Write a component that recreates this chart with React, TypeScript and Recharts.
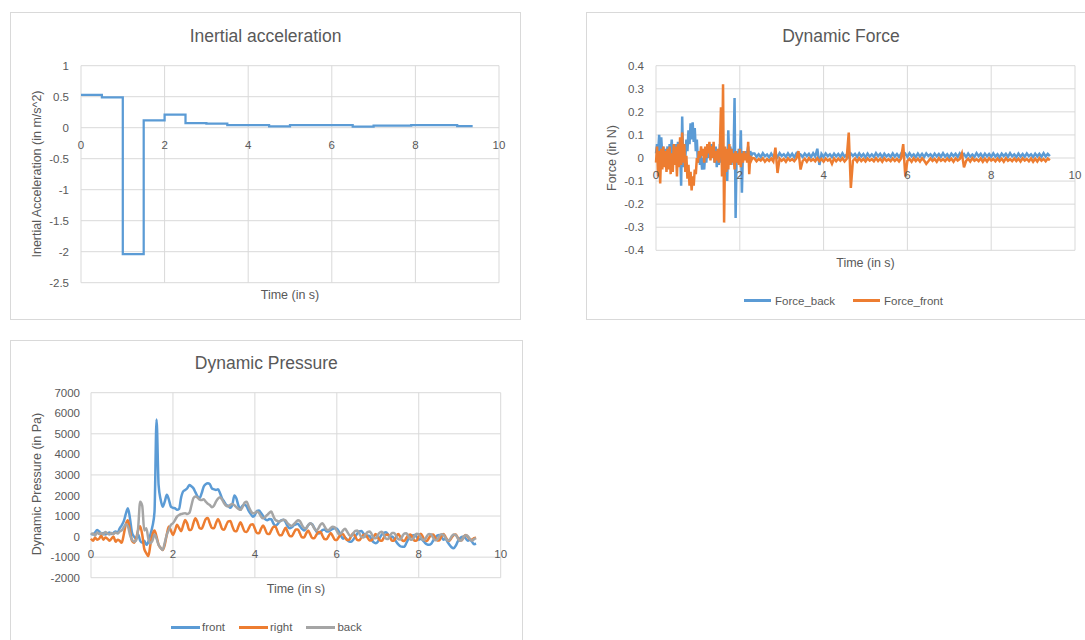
import React from 'react';
import { LineChart, Line, XAxis, YAxis, CartesianGrid } from 'recharts';

const BLUE = '#5b9bd5';
const ORANGE = '#ed7d31';
const GRAY = '#a5a5a5';
const TEXT = '#595959';
const GRID = '#d9d9d9';
const FONT = '"Liberation Sans", Arial, sans-serif';

const timeTicks = [0, 2, 4, 6, 8, 10];

// Inertial acceleration: held values, each starts at the listed time
const accelTime = [0, 0.5, 1.0, 1.5, 2.0, 2.5, 3.0, 3.5, 4.5, 5.0, 6.5, 7.0, 7.9, 9.0, 9.37];
const accelValue = [0.53, 0.49, -2.04, 0.12, 0.21, 0.075, 0.065, 0.04, 0.02, 0.043, 0.016, 0.032, 0.043, 0.027, 0.027];
const accelTicks = [-2.5, -2, -1.5, -1, -0.5, 0, 0.5, 1];

// Dynamic force, 0 - 2.3 s sampled every 0.025 s
const FORCE_EARLY_STEP = 0.025;
const forceBackEarly = [
  0.02, 0.06, 0.02, 0.10, 0.03, 0.09, 0.01, 0.05, -0.02, 0.04,
  0.00, 0.05, -0.02, 0.06, 0.01, 0.08, -0.01, 0.05, -0.03, 0.06,
  0.00, 0.07, -0.02, 0.04, -0.12, 0.18, -0.04, 0.06, 0.00, 0.08,
  0.03, 0.12, 0.06, 0.15, 0.08, 0.155, 0.07, 0.13, 0.03, 0.08,
  -0.02, 0.03, -0.03, 0.01, -0.05, 0.00, -0.05, 0.02, -0.02, 0.04,
  0.00, 0.05, 0.01, 0.06, 0.00, 0.04, -0.02, 0.05, -0.04, 0.03,
  -0.03, 0.06, -0.02, 0.04, -0.05, 0.03, -0.04, 0.02, -0.10, 0.12,
  -0.02, 0.05, -0.03, 0.04, -0.01, 0.26, -0.26, 0.03, -0.02, 0.04,
  -0.01, 0.12, -0.15, 0.03, 0.00, 0.03, 0.00, 0.02, 0.05, 0.00,
  0.03, 0.01, 0.02,
];
const forceFrontEarly = [
  -0.02, 0.05, -0.08, 0.03, -0.11, 0.04, -0.05, 0.05, -0.04, 0.03,
  -0.06, 0.04, -0.05, 0.05, -0.07, 0.02, -0.06, 0.06, -0.03, 0.05,
  -0.08, 0.06, -0.04, 0.09, -0.03, 0.11, -0.02, 0.06, -0.06, 0.01,
  -0.09, -0.03, -0.12, -0.06, -0.14, -0.08, -0.12, -0.05, -0.07, 0.00,
  -0.02, 0.03, 0.00, 0.05, 0.01, 0.04, -0.02, 0.05, 0.00, 0.06,
  0.02, 0.07, -0.01, 0.05, 0.00, 0.07, -0.02, 0.03, -0.01, 0.04,
  -0.02, 0.05, 0.22, -0.08, 0.32, -0.28, 0.05, -0.06, 0.04, -0.05,
  0.06, -0.03, 0.04, -0.02, 0.02, -0.05, 0.03, -0.02, 0.02, -0.03,
  0.04, -0.04, 0.02, -0.02, 0.03, -0.01, 0.02, -0.02, 0.07, -0.07,
  0.01, -0.01, 0.00,
];

// Dynamic force, 2.35 - 9.4 s sampled every 0.05 s
const FORCE_LATE_START = 2.35;
const FORCE_LATE_STEP = 0.05;
const forceBackLate = [
  0.020, 0.005, 0.016, 0.004, 0.021, 0.008, 0.015, 0.003, 0.019, 0.006,
  0.017, 0.004, 0.021, 0.009, 0.016, 0.005, 0.020, 0.006, 0.018, 0.003,
  0.020, 0.007, 0.015, 0.005, 0.019, 0.008, 0.018, 0.004, 0.021, 0.006,
  0.040, -0.030, 0.018, 0.005, 0.020, 0.008, 0.016, 0.004, 0.019, 0.007,
  0.017, 0.005, 0.021, 0.006, 0.015, 0.004, 0.019, 0.009, 0.018, 0.005,
  0.020, 0.007, 0.017, 0.003, 0.019, 0.006, 0.016, 0.005, 0.021, 0.008,
  0.018, 0.004, 0.019, 0.007, 0.015, 0.005, 0.020, 0.006, 0.017, 0.004,
  0.019, 0.008, 0.018, 0.005, 0.021, 0.007, 0.016, 0.004, 0.019, 0.006,
  0.018, 0.005, 0.020, 0.009, 0.016, 0.004, 0.019, 0.007, 0.017, 0.005,
  0.021, 0.006, 0.016, 0.003, 0.019, 0.008, 0.018, 0.005, 0.020, 0.007,
  0.017, 0.004, 0.019, 0.006, 0.015, 0.005, 0.021, 0.008, 0.018, 0.004,
  0.019, 0.007, 0.017, 0.005, 0.020, 0.006, 0.016, 0.003, 0.019, 0.008,
  0.018, 0.005, 0.021, 0.007, 0.016, 0.004, 0.019, 0.006, 0.017, 0.005,
  0.020, 0.008, 0.016, 0.004, 0.019, 0.007, 0.018, 0.005, 0.021, 0.006,
  0.018, 0.008,
];
const forceFrontLate = [
  -0.002, -0.014, -0.004, -0.011, -0.001, -0.016, -0.005, -0.013, -0.002, -0.015,
  0.045, -0.065, -0.002, -0.012, -0.004, -0.016, -0.001, -0.011, -0.005, -0.014,
  -0.002, 0.030, -0.050, -0.013, -0.003, -0.016, -0.001, -0.012, -0.005, -0.014,
  -0.001, -0.013, -0.004, -0.016, -0.002, -0.011, -0.005, -0.025, -0.002, -0.014,
  -0.003, -0.012, -0.001, -0.015, -0.004, 0.110, -0.130, -0.012, -0.002, -0.016,
  -0.001, -0.013, -0.004, -0.015, -0.002, -0.011, -0.005, -0.014, -0.001, -0.013,
  -0.003, -0.016, -0.001, -0.012, -0.005, -0.014, -0.002, -0.013, -0.004, -0.015,
  -0.002, 0.060, -0.080, -0.012, -0.004, -0.016, -0.001, -0.013, -0.003, -0.015,
  -0.001, -0.011, -0.025, -0.014, -0.002, -0.013, -0.004, -0.016, -0.001, -0.012,
  -0.005, -0.014, -0.002, -0.012, -0.003, -0.016, -0.001, -0.011, -0.004, 0.020,
  -0.040, -0.013, -0.003, -0.015, -0.001, -0.012, -0.005, -0.014, -0.002, -0.016,
  -0.003, -0.015, -0.001, -0.011, -0.004, -0.014, -0.002, -0.013, -0.003, -0.016,
  -0.001, -0.012, -0.005, -0.014, -0.002, -0.013, -0.003, -0.015, -0.001, -0.011,
  -0.004, -0.014, -0.002, -0.016, -0.003, -0.015, -0.001, -0.012, -0.004, -0.014,
  -0.002, -0.010,
];
const forceTicks = [-0.4, -0.3, -0.2, -0.1, 0, 0.1, 0.2, 0.3, 0.4];

// Dynamic pressure, sampled every 0.05 s from 0 to 9.4 s
const PRESSURE_STEP = 0.05;
const pressureFront = [
  150, 100, 200, 320, 250, 120, 180, 100, 150, 200,
  120, 180, 250, 200, 400, 550, 750, 1100, 1380, 900,
  200, 0, -100, 100, -200, -300, -200, -400, -250, 100,
  500, 1200, 5700, 2500, 1800, 1450, 1700, 2030, 1800, 1460,
  1400, 1380, 1300, 1350, 1900, 2200, 2270, 2350, 2510, 2450,
  2350, 2150, 1950, 1870, 2100, 2430, 2550, 2600, 2550, 2350,
  2300, 2270, 2300, 2110, 1850, 1700, 1540, 1500, 1400, 1550,
  2000, 1850, 1500, 1380, 1500, 1550, 1460, 1250, 1100, 970,
  1050, 1250, 1270, 1150, 1000, 850, 800, 850, 840, 650,
  520, 600, 730, 800, 820, 700, 500, 400, 450, 550,
  600, 620, 500, 380, 300, 400, 550, 640, 600, 420,
  250, 150, 200, 320, 350, 250, 250, 320, 380, 400,
  380, 250, 50, -100, -50, -150, -240, -250, -150, 0,
  150, 250, 275, 150, 0, 50, 20, -150, -280, -320,
  -250, -50, 100, 180, 210, 100, -50, 0, -100, -250,
  -380, -470, -500, -490, -300, -100, 0, 60, 80, -20,
  -150, -100, -180, -300, -380, -400, -350, -200, -50, 50,
  80, 0, -150, -100, -250, -400, -520, -570, -450, -250,
  -100, -20, 0, -100, -200, -150, -250, -370, -350,
];
const pressureRight = [
  -100, -200, -50, -150, -100, 50, -150, -50, -100, -200,
  -100, 0, -250, -150, -200, -300, 100, 600, 800, 300,
  -200, -300, -100, 300, 500, 100, -600, -800, -950, -400,
  100, 300, 0, -400, -550, -650, -400, 100, 490, 300,
  80, 300, 570, 420, 260, 550, 810, 620, 320, 340,
  650, 890, 700, 420, 380, 600, 850, 900, 650, 420,
  400, 650, 860, 650, 380, 330, 550, 740, 760, 500,
  280, 260, 500, 700, 480, 250, 220, 400, 580, 600,
  380, 170, 160, 380, 540, 360, 140, 120, 300, 470,
  490, 260, 70, 60, 250, 430, 220, 30, 20, 180,
  340, 350, 150, -30, -40, 150, 300, 120, -70, -80,
  80, 220, 240, 40, -120, -130, 30, 180, 20, -150,
  -160, -20, 110, 130, -40, -170, -160, 30, 150, 0,
  -170, -180, -40, 80, 100, -50, -190, -180, 0, 120,
  -30, -180, -200, -40, 80, 100, -50, -200, -190, 0,
  120, -20, -190, -210, -60, 70, 100, -50, -200, -190,
  20, 140, -10, -180, -210, -60, 80, 100, -40, -190,
  -190, 10, 130, 0, -170, -200, -60, 70, 100, -40,
  -190, -180, 0, 80, -20, -130, -150, -80, -50,
];
const pressureBack = [
  100, 150, 50, 200, 120, 180, 100, 220, 150, 100,
  180, 120, 200, 150, 250, 300, 450, 600, 500, 100,
  -150, -250, -200, 400, 1700, 1500, 300, 400, -100, -320,
  -200, 100, -100, -400, -550, -650, -300, 100, 330, 570,
  650, 800, 970, 1050, 1100, 1120, 1140, 1100, 1150, 1500,
  1870, 1950, 1900, 1800, 1780, 1820, 1700, 1600, 1540, 1430,
  1500, 1700, 1850, 1910, 1800, 1620, 1500, 1460, 1550, 1590,
  1520, 1430, 1350, 1300, 1450, 1650, 1700, 1450, 1250, 1140,
  1150, 1220, 1150, 980, 890, 950, 1050, 1150, 1220, 1000,
  810, 760, 730, 780, 820, 780, 640, 560, 520, 600,
  700, 800, 750, 560, 420, 400, 550, 650, 580, 400,
  300, 400, 580, 650, 500, 340, 320, 420, 480, 450,
  280, 120, 150, 300, 380, 250, 80, 20, 150, 280,
  300, 150, -20, -50, 100, 220, 250, 120, -60, -80,
  80, 200, 230, 80, -100, -120, 50, 170, 180, 30,
  -130, -140, 20, 150, 160, 10, -150, -130, 40, 140,
  120, -30, -160, -140, 30, 120, 100, -50, -180, -150,
  20, 110, 90, -60, -190, -160, 0, 100, 80, -80,
  -200, -170, 0, 60, 20, -120, -200, -120, -80,
];
const pressureTicks = [-2000, -1000, 0, 1000, 2000, 3000, 4000, 5000, 6000, 7000];

const accelData = accelTime.map((t, i) => ({ t, a: accelValue[i] }));

const forceData = [
  ...forceBackEarly.map((v, i) => ({ t: i * FORCE_EARLY_STEP, back: v, front: forceFrontEarly[i] })),
  ...forceBackLate.map((v, i) => ({ t: FORCE_LATE_START + i * FORCE_LATE_STEP, back: v, front: forceFrontLate[i] })),
];

const pressureData = pressureFront.map((v, i) => ({
  t: i * PRESSURE_STEP,
  front: v,
  right: pressureRight[i],
  back: pressureBack[i],
}));

// x labels sit just under the zero line, like Excel does
const zeroTick = (zeroFromBottom: number) => (props: any) => {
  const { x, y, payload } = props;
  return (
    <text x={x} y={y - 8 - zeroFromBottom + 21} textAnchor="middle" fill={TEXT} fontSize={11.5} fontFamily={FONT}>
      {payload.value}
    </text>
  );
};

const yTick = { fill: TEXT, fontSize: 11.5, fontFamily: FONT };

function Panel({ left, top, width, height, children }: any) {
  return (
    <div
      style={{
        position: 'absolute', left, top, width, height,
        outline: `1px solid ${GRID}`, outlineOffset: -1, background: '#fff',
      }}
    >
      {children}
    </div>
  );
}

function Txt({ x, y, size, rotate, children }: any) {
  return (
    <div
      style={{
        position: 'absolute', left: x, top: y,
        transform: `translate(-50%, -50%)${rotate ? ' rotate(-90deg)' : ''}`,
        fontSize: size, color: TEXT, whiteSpace: 'nowrap', lineHeight: 1,
      }}
    >
      {children}
    </div>
  );
}

function LegendRow({ x, y, items, lineWidth, gap, itemGap }: any) {
  return (
    <div
      style={{
        position: 'absolute', left: x, top: y, transform: 'translateY(-50%)',
        display: 'flex', alignItems: 'center', fontSize: 11.5, color: TEXT, whiteSpace: 'nowrap',
      }}
    >
      {items.map((it: any, i: number) => (
        <div key={it.name} style={{ display: 'flex', alignItems: 'center', marginLeft: i ? itemGap : 0 }}>
          <span style={{ width: lineWidth, height: 2.5, background: it.color, marginRight: gap }} />
          <span>{it.name}</span>
        </div>
      ))}
    </div>
  );
}

export default function App() {
  return (
    <div
      style={{
        position: 'absolute', left: 0, top: 0, width: 1085, height: 640,
        overflow: 'hidden', background: '#fff', fontFamily: FONT,
      }}
    >
      <Panel left={10} top={12} width={511} height={308}>
        <LineChart width={511} height={307} data={accelData} margin={{ top: 53.7, right: 22, bottom: 6.3, left: 0 }}>
          <CartesianGrid stroke={GRID} />
          <XAxis
            type="number"
            dataKey="t"
            domain={[0, 10]}
            ticks={timeTicks}
            height={30}
            axisLine={false}
            tickLine={false}
            tick={zeroTick(155)}
          />
          <YAxis
            type="number"
            domain={[-2.5, 1]}
            ticks={accelTicks}
            width={71}
            axisLine={false}
            tickLine={false}
            tickMargin={6}
            tick={yTick}
          />
          <Line type="stepAfter" dataKey="a" stroke={BLUE} strokeWidth={2.25} dot={false} isAnimationActive={false} />
        </LineChart>
      </Panel>

      <Panel left={586} top={12} width={510} height={308}>
        <LineChart width={510} height={308} data={forceData} margin={{ top: 53.7, right: 21, bottom: 39.7, left: 0 }}>
          <CartesianGrid stroke={GRID} />
          <XAxis
            type="number"
            dataKey="t"
            domain={[0, 10]}
            ticks={timeTicks}
            height={30}
            axisLine={false}
            tickLine={false}
            tick={zeroTick(92.3)}
          />
          <YAxis
            type="number"
            domain={[-0.4, 0.4]}
            ticks={forceTicks}
            width={70}
            axisLine={false}
            tickLine={false}
            tickMargin={6}
            tick={yTick}
          />
          <Line type="linear" dataKey="back" stroke={BLUE} strokeWidth={2.5} dot={false} isAnimationActive={false} />
          <Line type="linear" dataKey="front" stroke={ORANGE} strokeWidth={2.5} dot={false} isAnimationActive={false} />
        </LineChart>
      </Panel>

      <Panel left={10} top={340} width={513} height={310}>
        <LineChart width={513} height={310} data={pressureData} margin={{ top: 52.7, right: 22.3, bottom: 42.3, left: 0 }}>
          <CartesianGrid stroke={GRID} />
          <XAxis
            type="number"
            dataKey="t"
            domain={[0, 10]}
            ticks={timeTicks}
            height={30}
            axisLine={false}
            tickLine={false}
            tick={zeroTick(41)}
          />
          <YAxis
            type="number"
            domain={[-2000, 7000]}
            ticks={pressureTicks}
            width={81}
            axisLine={false}
            tickLine={false}
            tickMargin={5}
            tick={yTick}
          />
          <Line type="monotone" dataKey="front" stroke={BLUE} strokeWidth={2.5} dot={false} isAnimationActive={false} />
          <Line type="monotone" dataKey="right" stroke={ORANGE} strokeWidth={2.5} dot={false} isAnimationActive={false} />
          <Line type="monotone" dataKey="back" stroke={GRAY} strokeWidth={2.5} dot={false} isAnimationActive={false} />
        </LineChart>
      </Panel>

      <Txt x={265.5} y={37} size={17.5}>Inertial acceleration</Txt>
      <Txt x={290} y={294.5} size={12.5}>Time (in s)</Txt>
      <Txt x={37} y={173.5} size={12.5} rotate>Inertial Acceleration (in m/s^2)</Txt>

      <Txt x={841} y={37} size={17.5}>Dynamic Force</Txt>
      <Txt x={865.5} y={262.7} size={12.5}>Time (in s)</Txt>
      <Txt x={611.7} y={158} size={12.5} rotate>Force (in N)</Txt>
      <LegendRow
        x={744}
        y={300.7}
        lineWidth={27}
        gap={4}
        itemGap={18}
        items={[{ name: 'Force_back', color: BLUE }, { name: 'Force_front', color: ORANGE }]}
      />

      <Txt x={266.3} y={364} size={17.5}>Dynamic Pressure</Txt>
      <Txt x={296} y={589.3} size={12.5}>Time (in s)</Txt>
      <Txt x={36.7} y={484.3} size={12.5} rotate>Dynamic Pressure (in Pa)</Txt>
      <LegendRow
        x={171}
        y={627.3}
        lineWidth={29}
        gap={2}
        itemGap={14}
        items={[
          { name: 'front', color: BLUE },
          { name: 'right', color: ORANGE },
          { name: 'back', color: GRAY },
        ]}
      />
    </div>
  );
}
